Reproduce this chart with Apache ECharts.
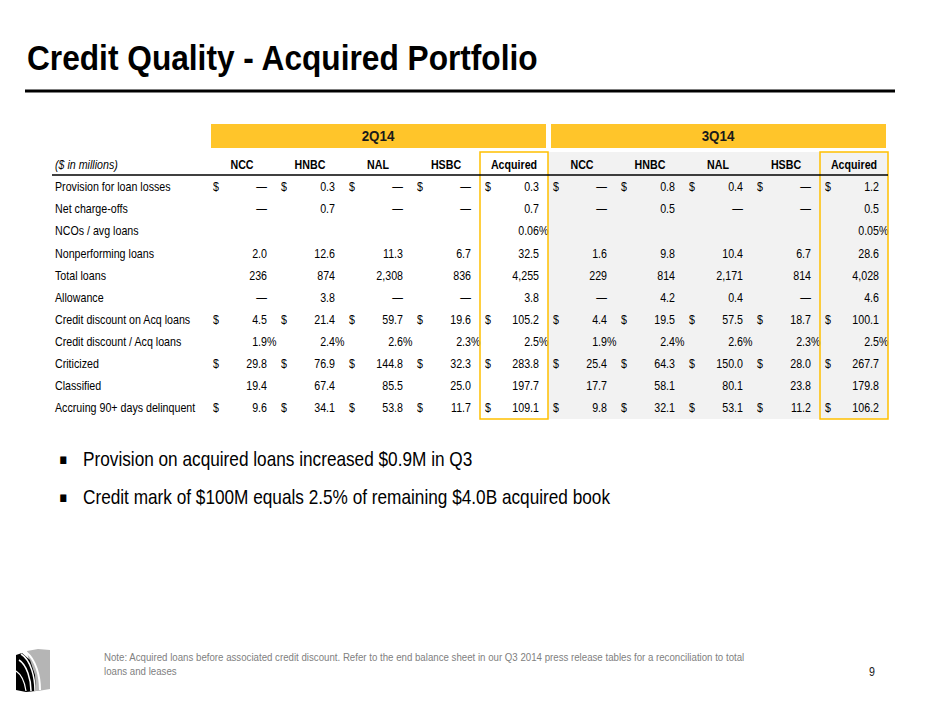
<!DOCTYPE html>
<html lang="en">
<head>
  <meta charset="UTF-8">
  <title>Credit Quality - Acquired Portfolio</title>
  <style>
    html,body {
      width:100%;
      height:100%;
      margin: 0;
      background: #fff;
    }
  </style>
</head>
<body>
  <div id="chart" style="width:940px;height:705px"></div>
  <script src="https://cdn.jsdelivr.net/npm/echarts@6/dist/echarts.min.js"></script>
  <script>
    // Arial Narrow is not installed: use Liberation Sans (Arial metrics) squeezed horizontally
    var FONT = '"Liberation Sans", Arial, sans-serif';
    var NARROW = 0.82;
    var TABLE_NARROW = 0.89;

    var quarters = ['2Q14', '3Q14'];
    var columns = ['NCC', 'HNBC', 'NAL', 'HSBC', 'Acquired'];
    var rowLabels = [
      'Provision for loan losses',
      'Net charge-offs',
      'NCOs / avg loans',
      'Nonperforming loans',
      'Total loans',
      'Allowance',
      'Credit discount on Acq loans',
      'Credit discount / Acq loans',
      'Criticized',
      'Classified',
      'Accruing 90+ days delinquent'
    ];

    // 2Q14 then 3Q14, each NCC, HNBC, NAL, HSBC, Acquired. 0 shows as a dash, null is blank
    var provision      = [0, 0.3, 0, 0, 0.3,            0, 0.8, 0.4, 0, 1.2];
    var netChargeOffs  = [0, 0.7, 0, 0, 0.7,            0, 0.5, 0, 0, 0.5];
    var ncoRatio       = [null, null, null, null, 0.06, null, null, null, null, 0.05];
    var nonperforming  = [2.0, 12.6, 11.3, 6.7, 32.5,   1.6, 9.8, 10.4, 6.7, 28.6];
    var totalLoans     = [236, 874, 2308, 836, 4255,    229, 814, 2171, 814, 4028];
    var allowance      = [0, 3.8, 0, 0, 3.8,            0, 4.2, 0.4, 0, 4.6];
    var creditDiscount = [4.5, 21.4, 59.7, 19.6, 105.2, 4.4, 19.5, 57.5, 18.7, 100.1];
    var discountRatio  = [1.9, 2.4, 2.6, 2.3, 2.5,      1.9, 2.4, 2.6, 2.3, 2.5];
    var criticized     = [29.8, 76.9, 144.8, 32.3, 283.8, 25.4, 64.3, 150.0, 28.0, 267.7];
    var classified     = [19.4, 67.4, 85.5, 25.0, 197.7, 17.7, 58.1, 80.1, 23.8, 179.8];
    var accruing90     = [9.6, 34.1, 53.8, 11.7, 109.1, 9.8, 32.1, 53.1, 11.2, 106.2];

    var rows = [provision, netChargeOffs, ncoRatio, nonperforming, totalLoans, allowance,
      creditDiscount, discountRatio, criticized, classified, accruing90];
    var rowFormats = ['usd', 'num', 'pct2', 'num', 'int', 'num', 'usd', 'pct', 'usd', 'num', 'usd'];

    var colNames = columns.concat(columns);

    function formatValue(v, fmt) {
      if (v === 0 && fmt.indexOf('pct') < 0) return '\u2014';
      if (fmt === 'int') return v.toLocaleString('en-US');
      if (fmt === 'pct2') return v.toFixed(2);
      return v.toFixed(1);
    }

    var cells = [];
    rows.forEach(function (vals, r) {
      vals.forEach(function (v, c) {
        if (v === null) return;
        cells.push({
          col: c,
          row: r,
          text: formatValue(v, rowFormats[r]),
          dollar: rowFormats[r] === 'usd',
          pct: rowFormats[r].indexOf('pct') === 0
        });
      });
    });

    // column ranges for the quarter bars, the shaded quarter and the boxed totals
    var quarterBars = [[0, 4], [5, 9]];
    var shaded = [[5, 9]];
    var boxed = [[4, 4], [9, 9]];

    // narrow text element, anchored at (x, y)
    function txt(text, x, y, font, opt) {
      opt = opt || {};
      return {
        type: 'text',
        x: x,
        y: y,
        scaleX: opt.sx || NARROW,
        z2: 10,
        style: {
          text: text,
          x: 0,
          y: 0,
          align: opt.align || 'left',
          verticalAlign: 'middle',
          fill: opt.fill || '#000',
          font: font
        }
      };
    }

    function bandRect(api, from, to) {
      var a = api.coord([from, 0]);
      var b = api.coord([to, rowLabels.length - 1]);
      var s = api.size([1, 1]);
      return {
        x0: a[0] - s[0] / 2,
        x1: b[0] + s[0] / 2,
        top: a[1] - s[1] / 2,
        bottom: b[1] + s[1] / 2
      };
    }

    var myChart = echarts.init(document.getElementById('chart'), null, { renderer: 'svg' });

    var option = {
      backgroundColor: '#fff',
      animation: false,
      textStyle: { fontFamily: FONT },
      grid: {
        left: 208,
        right: 52,
        top: 176,
        bottom: 286,
        outerBoundsMode: 'none'
      },
      xAxis: {
        type: 'category',
        position: 'top',
        data: colNames,
        axisLine: { show: false },
        axisTick: { show: false },
        splitLine: { show: false },
        axisLabel: { show: false }
      },
      yAxis: {
        type: 'category',
        inverse: true,
        data: rowLabels,
        axisLine: { show: false },
        axisTick: { show: false },
        splitLine: { show: false },
        axisLabel: { show: false }
      },
      series: [{
        // quarter header bars
        type: 'custom',
        z: 1,
        silent: true,
        data: quarterBars.map(function (q, i) { return [q[0], q[1], i]; }),
        renderItem: function (params, api) {
          var q = quarterBars[params.dataIndex];
          var b = bandRect(api, q[0], q[1]);
          return {
            type: 'group',
            children: [{
              type: 'rect',
              shape: { x: b.x0 + 3, y: b.top - 52, width: b.x1 - b.x0 - 5, height: 24 },
              style: { fill: '#FFC52A' }
            }, txt(quarters[params.dataIndex], (b.x0 + b.x1) / 2, b.top - 40, 'bold 15px ' + FONT,
              { align: 'center', fill: '#1a1a1a', sx: TABLE_NARROW })]
          };
        }
      }, {
        // grey background of the latest quarter
        type: 'custom',
        z: 0,
        silent: true,
        data: shaded,
        renderItem: function (params, api) {
          var q = shaded[params.dataIndex];
          var b = bandRect(api, q[0], q[1]);
          return {
            type: 'rect',
            shape: { x: b.x0, y: b.top - 24, width: b.x1 - b.x0, height: b.bottom - b.top + 24 },
            style: { fill: '#F2F2F2' }
          };
        }
      }, {
        // yellow frames round the Acquired totals
        type: 'custom',
        z: 4,
        silent: true,
        data: boxed,
        renderItem: function (params, api) {
          var q = boxed[params.dataIndex];
          var b = bandRect(api, q[0], q[1]);
          return {
            type: 'rect',
            shape: { x: b.x0, y: b.top - 24, width: b.x1 - b.x0, height: b.bottom - b.top + 24 },
            style: { fill: 'none', stroke: '#FFC000', lineWidth: 1.5 }
          };
        }
      }, {
        // column headers
        type: 'custom',
        z: 3,
        silent: true,
        data: colNames.map(function (n, i) { return [i, 0]; }),
        renderItem: function (params, api) {
          var p = api.coord([params.dataIndex, 0]);
          var s = api.size([1, 1]);
          return txt(colNames[params.dataIndex], p[0], p[1] - s[1], 'bold 12px ' + FONT,
            { align: 'center', sx: TABLE_NARROW });
        }
      }, {
        // row labels
        type: 'custom',
        z: 3,
        silent: true,
        data: rowLabels.map(function (n, i) { return [0, i]; }),
        renderItem: function (params, api) {
          var p = api.coord([0, params.dataIndex]);
          var s = api.size([1, 1]);
          return txt(rowLabels[params.dataIndex], p[0] - s[0] / 2 - 153, p[1], '12px ' + FONT, { sx: TABLE_NARROW });
        }
      }, {
        // table values
        type: 'custom',
        z: 3,
        silent: true,
        data: cells.map(function (d) { return [d.col, d.row]; }),
        renderItem: function (params, api) {
          var cell = cells[params.dataIndex];
          var p = api.coord([cell.col, cell.row]);
          var s = api.size([1, 1]);
          var left = p[0] - s[0] / 2;
          var right = p[0] + s[0] / 2;
          var font = '12px ' + FONT;
          var o = { align: 'right', sx: TABLE_NARROW };
          var children = [txt(cell.text, right - 9, p[1], font, o)];
          if (cell.dollar) children.push(txt('$', left + 5, p[1], font, { sx: TABLE_NARROW }));
          if (cell.pct) children.push(txt('%', right - 9, p[1], font, { sx: TABLE_NARROW }));
          return { type: 'group', children: children };
        }
      }],
      graphic: [
        txt('Credit Quality - Acquired Portfolio', 27, 58, 'bold 35px ' + FONT, { sx: 0.905 }),
        {
          type: 'line',
          shape: { x1: 25, y1: 91, x2: 895, y2: 91 },
          style: { stroke: '#000', lineWidth: 3 }
        },
        txt('($ in millions)', 55, 165, 'italic 12px ' + FONT, { sx: TABLE_NARROW }),
        {
          type: 'line',
          z: 5,
          shape: { x1: 52, y1: 175, x2: 888, y2: 175 },
          style: { stroke: '#000', lineWidth: 1.5 }
        },
        txt('\u25AA', 59, 459, '15px "DejaVu Sans", sans-serif'),
        txt('Provision on acquired loans increased $0.9M in Q3', 83, 459, '21px ' + FONT),
        txt('\u25AA', 59, 497, '15px "DejaVu Sans", sans-serif'),
        txt('Credit mark of $100M equals 2.5% of remaining $4.0B acquired book', 83, 497, '21px ' + FONT),
        txt('Note: Acquired loans before associated credit discount. Refer to the end balance sheet in our Q3 2014 press release tables for a reconciliation to total', 104, 657, '11px ' + FONT, { fill: '#808080', sx: 0.88 }),
        txt('loans and leases', 104, 671, '11px ' + FONT, { fill: '#808080', sx: 0.88 }),
        txt('9', 872, 672, '13px ' + FONT, { align: 'center', fill: '#1a1a1a' }),
        // logo
        {
          type: 'polygon',
          shape: { points: [[27, 651], [38, 649], [50, 650], [50, 689], [38, 691], [34, 691]] },
          style: { fill: '#b5b5b5' }
        },
        {
          type: 'polygon',
          shape: { points: [[16, 655], [22, 653], [30, 660], [35, 675], [36, 691], [26, 692], [16, 690]] },
          style: { fill: '#000' }
        },
        {
          type: 'bezierCurve',
          shape: { x1: 19, y1: 660, x2: 31, y2: 691, cpx1: 27, cpy1: 665, cpx2: 31, cpy2: 680 },
          style: { stroke: '#fff', lineWidth: 1.5, fill: 'none' }
        },
        {
          type: 'bezierCurve',
          shape: { x1: 21, y1: 654, x2: 35, y2: 691, cpx1: 31, cpy1: 660, cpx2: 35, cpy2: 678 },
          style: { stroke: '#fff', lineWidth: 1.5, fill: 'none' }
        },
        {
          type: 'bezierCurve',
          shape: { x1: 16, y1: 671, x2: 26, y2: 691, cpx1: 22, cpy1: 675, cpx2: 25, cpy2: 684 },
          style: { stroke: '#fff', lineWidth: 1.2, fill: 'none' }
        },
        {
          type: 'bezierCurve',
          shape: { x1: 26, y1: 652, x2: 40, y2: 690, cpx1: 36, cpy1: 660, cpx2: 40, cpy2: 676 },
          style: { stroke: '#fff', lineWidth: 2, fill: 'none' }
        }
      ]
    };

    myChart.setOption(option);
  </script>
</body>
</html>
